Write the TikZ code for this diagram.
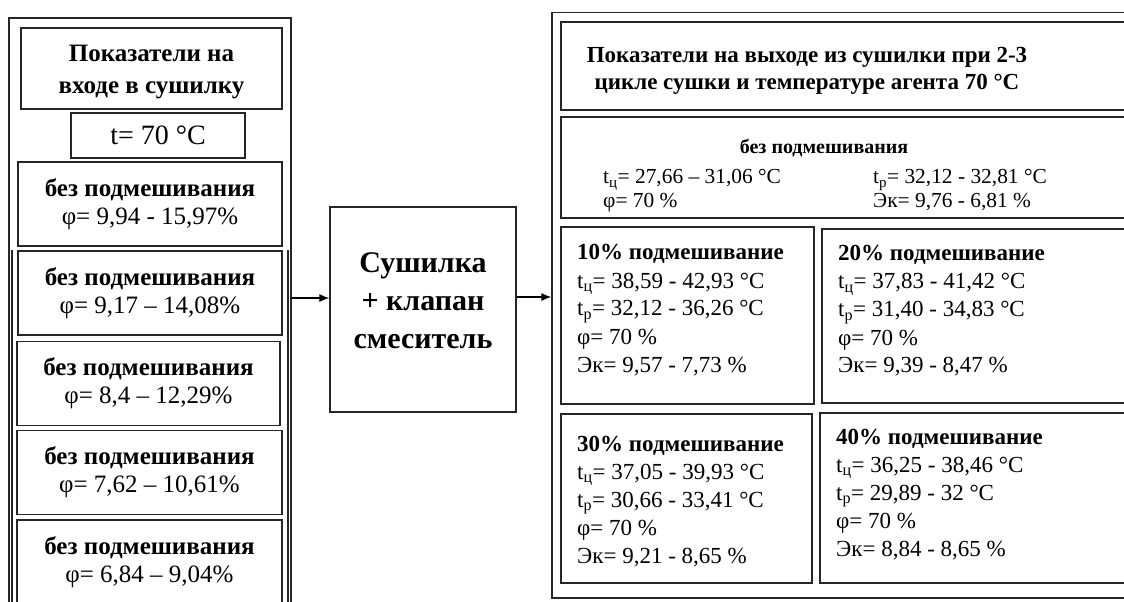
\documentclass[tikz,border=0pt]{standalone}
\usepackage{fontspec}
\setmainfont{Liberation Serif}
\usetikzlibrary{arrows.meta}

\begin{document}
\begin{tikzpicture}[x=1pt, y=-1pt,
    box/.style={draw=black!85, line width=1.3pt, inner sep=0pt},
    inbox/.style={box, align=center, minimum width=264pt, minimum height=84pt, font=\fontsize{25}{28}\selectfont},
    pct/.style={align=left, anchor=north west, inner sep=0pt, font=\fontsize{23}{28}\selectfont},
    arr/.style={line width=1.2pt, -{Latex[length=10pt,width=8pt]}}]
    \useasboundingbox (0,0) rectangle (1124,602);
    \clip (0,0) rectangle (1124,602);

    % left: inlet values
    \node [box, minimum width=282pt, minimum height=594pt] (inFrame) at (150,315) {};
    \draw [line width=1.3pt, black!85] (12,250) -- (12,612) (288,250) -- (288,612);
    \node [box, minimum width=261pt, minimum height=81pt] (inTitle) at (151.5,68.5) {};
    \node [align=center, inner sep=0pt, font=\fontsize{25}{32}\selectfont\bfseries] (inTitleText) at (151.5,72.5) {Показатели на\\входе в сушилку};
    \node [box, minimum width=174pt, minimum height=45pt, font=\fontsize{28}{32}\selectfont] (inTemp) at (158,135.5) {t= 70 °C};
    \node [inbox] (inA) at (150,204) {\textbf{без подмешивания}\\φ= 9,94 - 15,97\%};
    \node [inbox] (inB) at (150,293) {\textbf{без подмешивания}\\φ= 9,17 – 14,08\%};
    \node [inbox, minimum width=263pt] (inC) at (148.5,383.5) {\textbf{без подмешивания}\\φ= 8,4 – 12,29\%};
    \node [inbox, minimum width=265pt] (inD) at (149.5,472.5) {\textbf{без подмешивания}\\φ= 7,62 – 10,61\%};
    \node [inbox, minimum width=265pt] (inE) at (149.5,562) {\textbf{без подмешивания}\\φ= 6,84 – 9,04\%};

    % middle: dryer
    \node [box, minimum width=186pt, minimum height=205pt] (dryer) at (423,309.5) {};
    \node [align=center, inner sep=0pt, font=\fontsize{30}{38}\selectfont\bfseries] (dryerText) at (423,300.5) {Сушилка\\+ клапан\\смеситель};

    % right: outlet values
    \node [box, minimum width=588pt, minimum height=585.5pt] (outFrame) at (846,305.25) {};
    \node [box, minimum width=579pt, minimum height=88pt] (outTitle) at (850.5,66) {};
    \node [align=center, inner sep=0pt, font=\fontsize{23}{27}\selectfont\bfseries] (outTitleText) at (807,71) {Показатели на выходе из сушилки при 2-3\\цикле сушки и температуре агента 70 °C};
    \node [box, minimum width=579pt, minimum height=101pt] (noMix) at (850.5,167.5) {};
    \node [inner sep=0pt, font=\fontsize{20}{24}\selectfont\bfseries] (noMixHead) at (824,148.5) {без подмешивания};
    \node [pct, font=\fontsize{21.4}{24}\selectfont] (noMixA) at (603,169.5) {t\textsubscript{ц}= 27,66 – 31,06 °C\\φ= 70 \%};
    \node [pct, font=\fontsize{21.4}{24}\selectfont] (noMixB) at (873,169.5) {t\textsubscript{р}= 32,12 - 32,81 °C\\Эк= 9,76 - 6,81 \%};

    \node [box, minimum width=253pt, minimum height=177pt] (mix10) at (687.5,315.5) {};
    \node [box, minimum width=318pt, minimum height=174pt] (mix20) at (981,316) {};
    \node [box, minimum width=251pt, minimum height=169pt] (mix30) at (686.5,498.5) {};
    \node [box, minimum width=320pt, minimum height=170pt] (mix40) at (980,498) {};
    \node [pct] (mix10t) at (577,244.5) {\textbf{10\% подмешивание}\\t\textsubscript{ц}= 38,59 - 42,93 °C\\t\textsubscript{р}= 32,12 - 36,26 °C\\φ= 70 \%\\Эк= 9,57 - 7,73 \%};
    \node [pct] (mix20t) at (838,245.5) {\textbf{20\% подмешивание}\\t\textsubscript{ц}= 37,83 - 41,42 °C\\t\textsubscript{р}= 31,40 - 34,83 °C\\φ= 70 \%\\Эк= 9,39 - 8,47 \%};
    \node [pct] (mix30t) at (577,435.5) {\textbf{30\% подмешивание}\\t\textsubscript{ц}= 37,05 - 39,93 °C\\t\textsubscript{р}= 30,66 - 33,41 °C\\φ= 70 \%\\Эк= 9,21 - 8,65 \%};
    \node [pct] (mix40t) at (836,428.5) {\textbf{40\% подмешивание}\\t\textsubscript{ц}= 36,25 - 38,46 °C\\t\textsubscript{р}= 29,89 - 32 °C\\φ= 70 \%\\Эк= 8,84 - 8,65 \%};

    % arrows
    \coordinate (inArrow) at (0,298);
    \coordinate (outArrow) at (0,297);
    \draw [arr] (inFrame.east |- inArrow) -- (dryer.west |- inArrow);
    \draw [arr] (dryer.east |- outArrow) -- (outFrame.west |- outArrow);
\end{tikzpicture}
\end{document}
